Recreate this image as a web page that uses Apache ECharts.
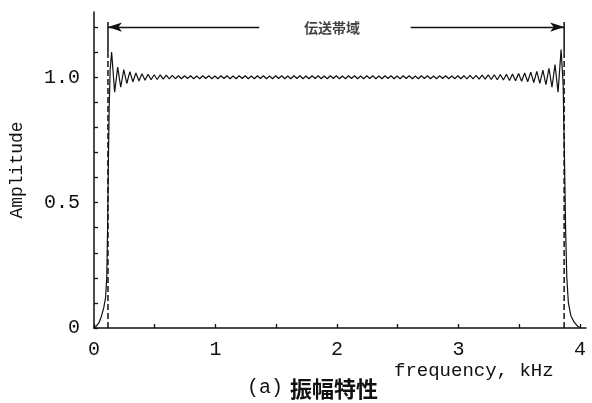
<!DOCTYPE html>
<html><head><meta charset="utf-8">
<script src="https://cdn.jsdelivr.net/npm/echarts@6/dist/echarts.min.js"></script>
<style>html,body{margin:0;padding:0;background:#fff}#c{width:592px;height:403px}</style>
</head><body><div id="c"></div>
<script>
// amplitude response: [frequency kHz, amplitude]
const response = [
 [0,0],[0.02,0.008],[0.04,0.02],[0.06,0.045],[0.08,0.08],[0.095,0.12],[0.105,0.2],[0.112,0.4],[0.118,0.65],[0.125,0.88],[0.133,1.03],
 [0.145,1.10],[0.170,0.94],[0.195,1.04],[0.220,0.96],[0.245,1.03],[0.270,0.975],[0.295,1.022],[0.320,0.982],[0.345,1.017],[0.370,0.985],
 [0.395,1.014],[0.420,0.988],[0.445,1.012],[0.470,0.990],[0.495,1.010],[0.520,0.991],[0.545,1.009],[0.570,0.992],[0.595,1.008],[0.620,0.993],
 [0.645,1.007],[0.670,0.994],[0.695,1.006],[0.720,0.994],[0.745,1.006],[0.770,0.995],[0.795,1.006],[0.820,0.994],[0.845,1.005],[0.870,0.994],
 [0.895,1.006],[0.920,0.995],[0.945,1.006],[0.970,0.994],[0.995,1.005],[1.020,0.994],[1.045,1.006],[1.070,0.995],[1.095,1.006],[1.120,0.994],
 [1.145,1.005],[1.170,0.994],[1.195,1.006],[1.220,0.995],[1.245,1.006],[1.270,0.994],[1.295,1.005],[1.320,0.994],[1.345,1.006],[1.370,0.995],
 [1.395,1.006],[1.420,0.994],[1.445,1.005],[1.470,0.994],[1.495,1.006],[1.520,0.995],[1.545,1.006],[1.570,0.994],[1.595,1.005],[1.620,0.994],
 [1.645,1.006],[1.670,0.995],[1.695,1.006],[1.720,0.994],[1.745,1.005],[1.770,0.994],[1.795,1.006],[1.820,0.995],[1.845,1.006],[1.870,0.994],
 [1.895,1.005],[1.920,0.994],[1.945,1.006],[1.970,0.995],[1.995,1.006],[2.020,0.994],[2.045,1.005],[2.070,0.994],[2.095,1.006],[2.120,0.995],
 [2.145,1.006],[2.170,0.994],[2.195,1.005],[2.220,0.994],[2.245,1.006],[2.270,0.995],[2.295,1.006],[2.320,0.994],[2.345,1.005],[2.370,0.994],
 [2.395,1.006],[2.420,0.995],[2.445,1.006],[2.470,0.994],[2.495,1.005],[2.520,0.994],[2.545,1.006],[2.570,0.995],[2.595,1.006],[2.620,0.994],
 [2.645,1.005],[2.670,0.994],[2.695,1.006],[2.720,0.995],[2.745,1.006],[2.770,0.994],[2.795,1.005],[2.820,0.994],[2.845,1.006],[2.870,0.995],
 [2.895,1.006],[2.920,0.994],[2.945,1.005],[2.970,0.994],[2.995,1.006],[3.020,0.994],[3.045,1.006],[3.070,0.993],[3.095,1.007],[3.120,0.993],
 [3.145,1.007],[3.170,0.992],[3.195,1.008],[3.220,0.992],[3.245,1.009],[3.270,0.991],[3.295,1.010],[3.320,0.990],[3.345,1.011],[3.370,0.989],
 [3.395,1.012],[3.420,0.987],[3.445,1.013],[3.470,0.986],[3.495,1.015],[3.520,0.984],[3.545,1.017],[3.570,0.982],[3.595,1.020],[3.620,0.979],
 [3.645,1.023],[3.670,0.975],[3.695,1.028],[3.720,0.970],[3.745,1.035],[3.770,0.960],[3.795,1.050],[3.820,0.940],[3.845,1.110],
 [3.862,0.97],[3.872,0.7],[3.882,0.4],[3.892,0.2],[3.905,0.1],[3.925,0.05],[3.95,0.025],[3.975,0.01],[4.0,0]
];
const bandEdges = [0.115, 3.87];        // passband limits, kHz
const bandLevel = 1.2;                  // height of the band annotation
const bandTop = 1.22;
const bandGap = [1.36, 2.607];          // gap in the arrow line for the label
const bandLabel = '伝送帯域';
const xTicks = [0,0.5,1,1.5,2,2.5,3,3.5,4];
const xLabels = [0,1,2,3,4];
const yTicks = [0,0.1,0.2,0.3,0.4,0.5,0.6,0.7,0.8,0.9,1.0,1.1,1.2];
const yLabels = [0,0.5,1.0];
const xName = 'frequency, kHz';
const yName = 'Amplitude';
const captionTag = '(a)';
const captionText = '振幅特性';

const chart = echarts.init(document.getElementById('c'), null, {renderer:'canvas'});
const mono = 'Liberation Mono';
const ink = '#111';
const option = {
  backgroundColor:'#fff',
  animation:false,
  grid:{left:92, right:6, top:12, bottom:75},
  xAxis:{type:'value', min:0, max:4.05,
    axisLine:{lineStyle:{color:ink,width:1.5}},
    axisTick:{inside:true, length:4, lineStyle:{color:ink,width:1.3}, customValues:xTicks},
    axisLabel:{customValues:xLabels, color:ink, fontFamily:mono, fontSize:20, margin:12,
      formatter:v=>String(v)},
    splitLine:{show:false}},
  yAxis:{type:'value', min:0, max:1.26,
    name:yName, nameLocation:'middle', nameGap:68, nameRotate:90,
    nameTextStyle:{color:ink, fontFamily:mono, fontSize:18},
    axisLine:{show:true, lineStyle:{color:ink,width:1.5}},
    axisTick:{show:true, inside:true, length:4, lineStyle:{color:ink,width:1.3}, customValues:yTicks},
    axisLabel:{customValues:yLabels, color:ink, fontFamily:mono, fontSize:20, margin:14,
      formatter:v=> v===0 ? '0' : v.toFixed(1)},
    splitLine:{show:false}},
  series:[
    {type:'line', data:response, symbol:'none', lineStyle:{color:ink,width:1.2}, z:5},
    {type:'line', data:[[bandEdges[0],0],[bandEdges[0],1.1]], symbol:'none',
      lineStyle:{color:ink,width:1.5,type:[6,3]}},
    {type:'line', data:[[bandEdges[0],1.1],[bandEdges[0],bandTop]], symbol:'none',
      lineStyle:{color:ink,width:1.5}},
    {type:'line', data:[[bandEdges[1],0],[bandEdges[1],1.1]], symbol:'none',
      lineStyle:{color:ink,width:1.5,type:[6,3]}},
    {type:'line', data:[[bandEdges[1],1.1],[bandEdges[1],bandTop]], symbol:'none',
      lineStyle:{color:ink,width:1.5}},
    {type:'scatter', data:[[(bandGap[0]+bandGap[1])/2, bandLevel]], symbolSize:0,
      label:{show:true, position:'inside', offset:[-3,1], formatter:bandLabel, color:ink,
        fontFamily:'Noto Sans CJK JP', fontWeight:'bold', fontSize:14},
      markLine:{silent:true, symbol:['none','arrow'], symbolSize:[7,14], label:{show:false},
        lineStyle:{color:ink,width:1.4,type:'solid'},
        data:[
          [{coord:[bandGap[0],bandLevel]},{coord:[bandEdges[0],bandLevel]}],
          [{coord:[bandGap[1],bandLevel]},{coord:[bandEdges[1],bandLevel]}]
        ]}}
  ],
  graphic:[
    {type:'text', left:394, top:361, style:{text:xName, fill:ink, font:'19px "Liberation Mono"'}},
    {type:'text', left:247, top:378, style:{text:captionTag, fill:ink, font:'20px "Liberation Mono"'}},
    {type:'text', left:290, top:378, style:{text:captionText, fill:ink, font:'bold 22px "Noto Sans CJK JP"'}}
  ]
};
chart.setOption(option);
</script></body></html>
